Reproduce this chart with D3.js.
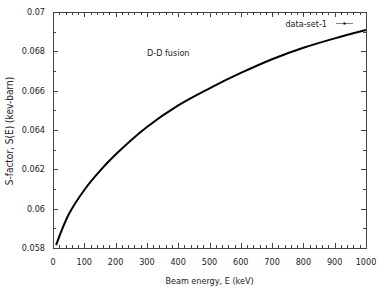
<!DOCTYPE html>
<html>
<head>
<meta charset="utf-8">
<script src="https://cdn.jsdelivr.net/npm/d3@7"></script>
<style>
  body { margin: 0; background: #fff; }
  text { font-family: "DejaVu Sans Condensed", "DejaVu Sans", sans-serif; fill: #222; }
</style>
</head>
<body>
<svg id="chart" width="382" height="291"></svg>
<script>
// beam energy (keV) and S-factor (keV-barn)
const energy = [10, 50, 100, 150, 200, 300, 400, 500, 600, 700, 800, 900, 1000];
const sfactor = [0.05815, 0.0597, 0.06095, 0.06192, 0.06275, 0.06415, 0.06525, 0.06612,
                 0.0669, 0.0676, 0.06818, 0.06866, 0.06908];
const xTicks = [0, 100, 200, 300, 400, 500, 600, 700, 800, 900, 1000];
const yTicks = [0.058, 0.06, 0.062, 0.064, 0.066, 0.068, 0.07];
const seriesName = "data-set-1";

const svg = d3.select("#chart");
const pLeft = 53, pRight = 366, pTop = 12, pBottom = 248;

const x = d3.scaleLinear().domain([0, 1000]).range([pLeft, pRight]);
const y = d3.scaleLinear().domain([0.058, 0.07]).range([pBottom, pTop]);

const fontSize = 9;
const major = 5, minor = 3;

// minor ticks
const xMinor = d3.range(0, 1001, 20).filter(v => v % 100 != 0);
const yMinor = d3.range(0.059, 0.0700, 0.002);

const ticks = svg.append("g").attr("stroke", "#444").attr("stroke-width", 1);
xTicks.forEach(v => {
    const px = Math.round(x(v)) + 0.5;
    ticks.append("line").attr("x1", px).attr("x2", px).attr("y1", pBottom).attr("y2", pBottom - major);
    ticks.append("line").attr("x1", px).attr("x2", px).attr("y1", pTop).attr("y2", pTop + major);
});
xMinor.forEach(v => {
    const px = Math.round(x(v)) + 0.5;
    ticks.append("line").attr("x1", px).attr("x2", px).attr("y1", pBottom).attr("y2", pBottom - minor);
    ticks.append("line").attr("x1", px).attr("x2", px).attr("y1", pTop).attr("y2", pTop + minor);
});
yTicks.forEach(v => {
    const py = Math.round(y(v)) + 0.5;
    ticks.append("line").attr("x1", pLeft).attr("x2", pLeft + major).attr("y1", py).attr("y2", py);
    ticks.append("line").attr("x1", pRight).attr("x2", pRight - major).attr("y1", py).attr("y2", py);
});
yMinor.forEach(v => {
    const py = Math.round(y(v)) + 0.5;
    ticks.append("line").attr("x1", pLeft).attr("x2", pLeft + minor).attr("y1", py).attr("y2", py);
    ticks.append("line").attr("x1", pRight).attr("x2", pRight - minor).attr("y1", py).attr("y2", py);
});

// frame
svg.append("rect")
    .attr("x", pLeft + 0.5).attr("y", pTop + 0.5)
    .attr("width", pRight - pLeft).attr("height", pBottom - pTop)
    .attr("fill", "none").attr("stroke", "#444").attr("stroke-width", 1);

// tick labels
svg.append("g").selectAll("text")
    .data(xTicks).enter().append("text")
    .attr("x", d => x(d)).attr("y", pBottom + 17)
    .attr("text-anchor", "middle").style("font-size", fontSize + "px")
    .text(d => d);

svg.append("g").selectAll("text")
    .data(yTicks).enter().append("text")
    .attr("x", pLeft - 8).attr("y", d => y(d) + 3)
    .attr("text-anchor", "end").style("font-size", fontSize + "px")
    .text(d => d3.format("")(+d.toFixed(3)));

// axis titles
svg.append("text")
    .attr("x", (pLeft + pRight) / 2).attr("y", 284)
    .attr("text-anchor", "middle").style("font-size", fontSize + "px")
    .text("Beam energy, E (keV)");

svg.append("text")
    .attr("transform", "translate(13," + ((pTop + pBottom) / 2 + 1) + ") rotate(-90)")
    .attr("text-anchor", "middle").style("font-size", "10px")
    .text("S-factor, S(E) (kev-barn)");

svg.append("text")
    .attr("x", 147).attr("y", 56)
    .style("font-size", fontSize + "px")
    .text("D-D fusion");

// curve
const data = energy.map((e, i) => ({ e: e, s: sfactor[i] }));
const line = d3.line().x(d => x(d.e)).y(d => y(d.s)).curve(d3.curveCatmullRom);
svg.append("path")
    .datum(data)
    .attr("d", line)
    .attr("fill", "none").attr("stroke", "#000").attr("stroke-width", 2);

// legend
svg.append("text")
    .attr("x", 327).attr("y", 27)
    .attr("text-anchor", "end").style("font-size", fontSize + "px")
    .text(seriesName);
svg.append("line")
    .attr("x1", 336).attr("x2", 353).attr("y1", 23.5).attr("y2", 23.5)
    .attr("stroke", "#666").attr("stroke-width", 0.8);
svg.append("rect")
    .attr("x", 343.5).attr("y", 22.5).attr("width", 2).attr("height", 2).attr("fill", "#000");
</script>
</body>
</html>
